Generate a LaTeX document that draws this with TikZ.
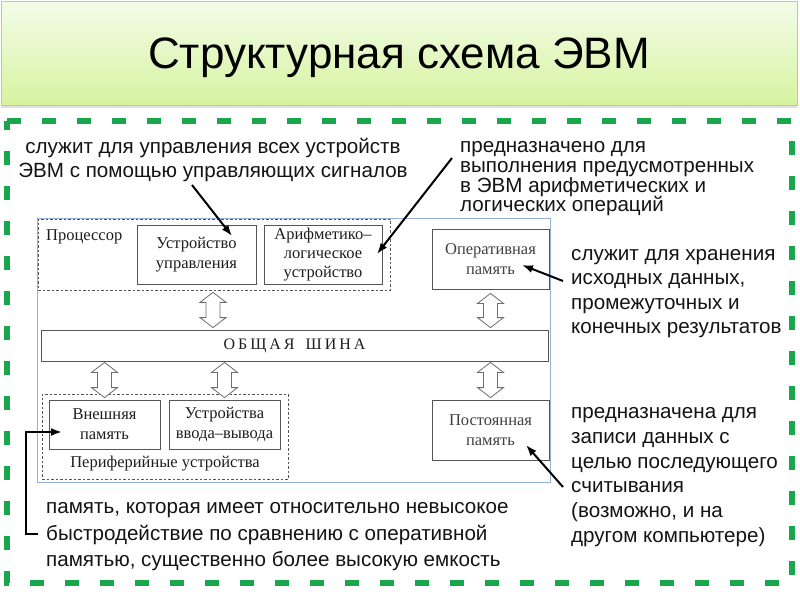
\documentclass[tikz,border=0pt]{standalone}
\usepackage{fontspec}
\setmainfont{Liberation Serif}
\newfontfamily\annfont{Liberation Sans}
\usetikzlibrary{arrows.meta,calc,shadows}
\definecolor{dashgreen}{RGB}{26,166,76}
\definecolor{bannertop}{RGB}{243,252,232}
\definecolor{bannerbot}{RGB}{214,243,160}
\definecolor{bannerline}{RGB}{185,205,150}
\definecolor{frameblue}{RGB}{150,176,220}
\definecolor{boxgray}{RGB}{85,85,85}
\definecolor{txtgray}{RGB}{30,30,30}
\newcommand\hollowarr[2]{%
  \draw[busarrow] (#1) -- ++(13,10) -- ++(-6,0) -- ($(#2)+(7,-10)$) -- ++(6,0) -- (#2)
    -- ++(-13,-10) -- ++(6,0) -- ($(#1)+(-7,10)$) -- ++(-6,0) -- cycle;}
\tikzset{
  box/.style={draw=boxgray, line width=0.8pt, fill=white, inner sep=0pt, align=center,
    text=txtgray, font=\fontsize{16.5}{19.8}\selectfont},
  grp/.style={draw=boxgray, line width=0.7pt, dash pattern=on 2.5pt off 2pt, inner sep=0pt},
  note/.style={inner sep=0pt, align=left, anchor=north west, text=black!92},
  pointer/.style={line width=2pt, -{Latex[length=11pt,width=8pt]}},
  busarrow/.style={draw=boxgray!85, line width=0.8pt, fill=white, line join=miter}
}
\begin{document}
\begin{tikzpicture}[x=1pt,y=-1pt]
\useasboundingbox (0,0) rectangle (800,600);
\fill[white] (0,0) rectangle (800,600);
% title banner
\node[draw=bannerline, line width=0.8pt, top color=bannertop, bottom color=bannerbot,
  minimum width=796pt, minimum height=104pt, inner sep=0pt,
  drop shadow={shadow xshift=0pt, shadow yshift=-3pt, opacity=0.25}] (banner) at (399,53) {};
\node[font=\annfont\fontsize{44}{50}\selectfont, anchor=base, text=black] (title) at (399,68) {Структурная схема ЭВМ};
% green dashed border
\draw[dashgreen, line width=5.5pt, dash pattern=on 14pt off 21pt] (7,121) -- (792,121) -- (792,583) -- (7,583) -- cycle;
% diagram frame
\node[draw=frameblue, line width=0.8pt, minimum width=513pt, minimum height=264pt, inner sep=0pt] (frame) at (293.5,350) {};
% processor group
\node[grp, minimum width=352pt, minimum height=71pt] (proc) at (214,254.5) {};
\node[anchor=west, inner sep=0pt, text=txtgray, font=\fontsize{16.5}{19.8}\selectfont] (proclbl) at (46,237) {Процессор};
\node[box, minimum width=119pt, minimum height=59pt] (cu) at (196.5,254.5) {Устройство\\управления};
\node[box, minimum width=118pt, minimum height=59pt, font=\fontsize{16.5}{19}\selectfont] (alu) at (323,254.5) {Арифметико–\\логическое\\устройство};
\node[box, minimum width=117pt, minimum height=60pt, text=black!75] (ram) at (490.5,259) {Оперативная\\память};
% bus
\node[box, minimum width=507pt, minimum height=31pt, font=\fontsize{16}{18}\selectfont] (bus) at (294.5,345.5)
  {О\hspace{3pt}Б\hspace{3pt}Щ\hspace{3pt}А\hspace{3pt}Я\hspace{11pt}Ш\hspace{3pt}И\hspace{3pt}Н\hspace{3pt}А};
% peripheral group
\node[grp, minimum width=246pt, minimum height=85pt] (periph) at (165,436.5) {};
\node[box, minimum width=111pt, minimum height=49pt] (ext) at (104.5,424.5) {Внешняя\\память};
\node[box, minimum width=111pt, minimum height=49pt] (io) at (224.5,424.5) {Устройства\\ввода–вывода};
\node[inner sep=0pt, text=txtgray, font=\fontsize{16.5}{19.8}\selectfont] (periphlbl) at (165,464) {Периферийные устройства};
\node[box, minimum width=117pt, minimum height=60pt, text=black!75] (rom) at (490.5,430) {Постоянная\\память};
% hollow double arrows
\coordinate (a1t) at ($(proc.south)+(-1,2)$);
\coordinate (a1b) at ($(bus.north -| a1t)+(0,-2)$);
\coordinate (r1t) at ($(ram.south)+(0,4)$);
\coordinate (r1b) at ($(bus.north -| r1t)+(0,-2)$);
\coordinate (r2t) at ($(bus.south -| rom.north)+(0,1)$);
\coordinate (r2b) at ($(rom.north)+(0,-2)$);
\coordinate (b1t) at ($(bus.south -| ext.north)+(0,1)$);
\coordinate (b1b) at ($(ext.north)+(0,-2)$);
\coordinate (b2t) at ($(bus.south -| io.north)+(0,1)$);
\coordinate (b2b) at ($(io.north)+(0,-2)$);
\hollowarr{a1t}{a1b}
\hollowarr{r1t}{r1b}
\hollowarr{r2t}{r2b}
\hollowarr{b1t}{b1b}
\hollowarr{b2t}{b2b}
% annotations
\node[note, align=center, anchor=north, font=\annfont\fontsize{20.6}{24}\selectfont] (t1) at (213,136.5)
  {\strut служит для управления всех устройств\\ЭВМ с помощью управляющих сигналов};
\node[note, font=\annfont\fontsize{20.6}{19.8}\selectfont] (t2) at (460,138.5)
  {\strut предназначено для\\выполнения предусмотренных\\в ЭВМ арифметических и\\логических операций};
\node[note, font=\annfont\fontsize{20.6}{24.3}\selectfont] (t3) at (571,243.3)
  {\strut служит для хранения\\исходных данных,\\промежуточных и\\конечных результатов};
\node[note, font=\annfont\fontsize{20.6}{24.7}\selectfont] (t4) at (571,401.3)
  {\strut предназначена для\\записи данных с\\целью последующего\\считывания\\(возможно, и на\\другом компьютере)};
\node[note, font=\annfont\fontsize{20.6}{26.6}\selectfont] (t5) at (46,494.7)
  {\strut память, которая имеет относительно невысокое\\быстродействие по сравнению с оперативной\\памятью, существенно более высокую емкость};
% pointers
\coordinate (p1s) at (192,185); \coordinate (p1e) at (232,236);
\coordinate (p2s) at (452,158); \coordinate (p2e) at (377,254);
\coordinate (p3s) at (563,281); \coordinate (p3e) at (522,265);
\coordinate (p4s) at (563,487); \coordinate (p4e) at (526,445);
\coordinate (p5s) at (38,534); \coordinate (p5e) at (62,432);
\draw[pointer] (p1s) -- (p1e);
\draw[pointer] (p2s) -- (p2e);
\draw[pointer] (p3s) -- (p3e);
\draw[pointer] (p4s) -- (p4e);
\draw[pointer, line join=miter] (p5s) -- (26,534) -- (26,432) -- (p5e);
\end{tikzpicture}
\end{document}
